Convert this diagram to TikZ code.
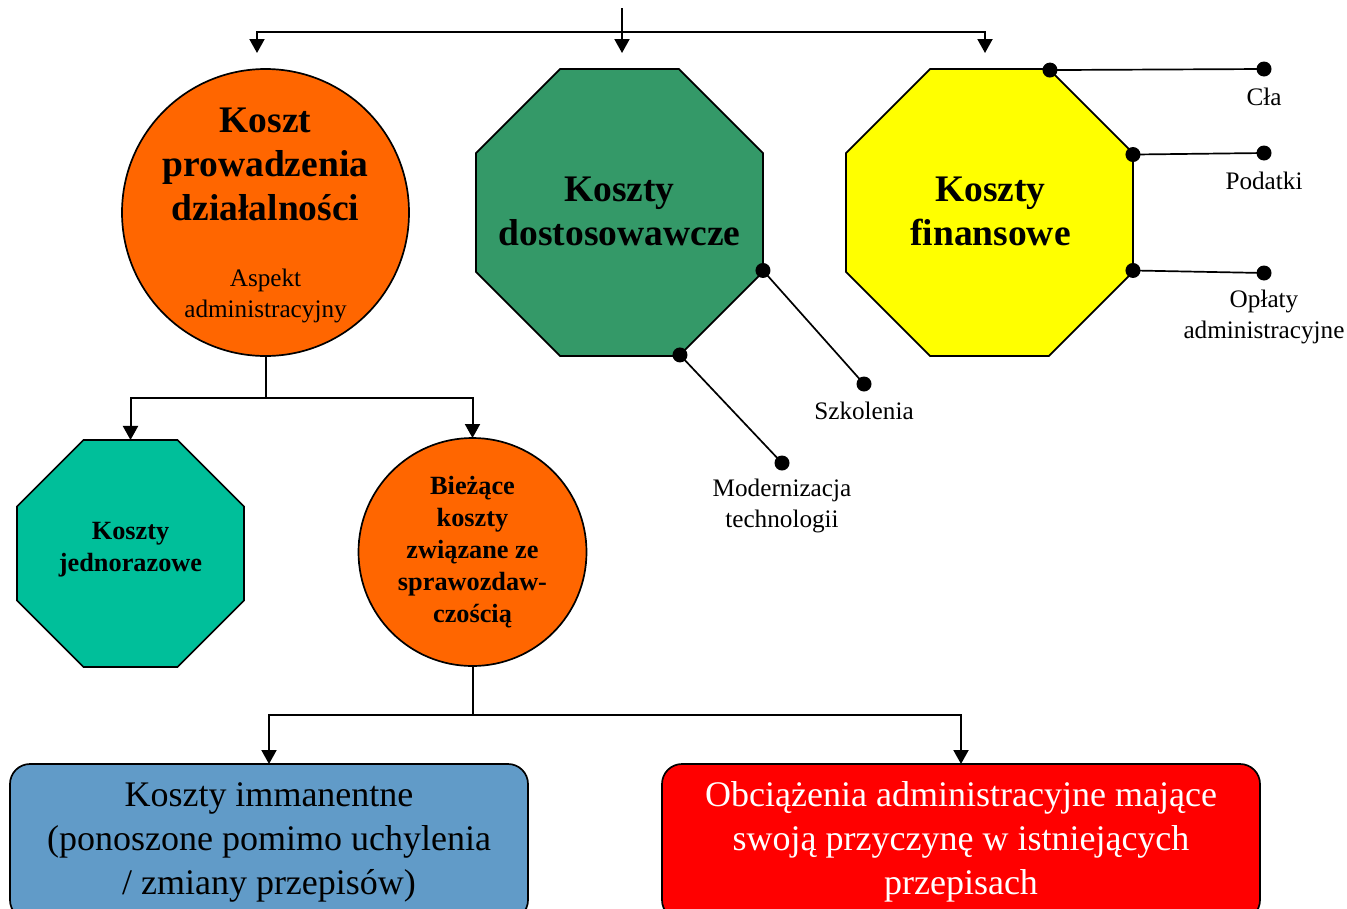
\documentclass[tikz,border=0pt]{standalone}
\usepackage{fontspec}
\setmainfont{Liberation Serif}
\usetikzlibrary{arrows.meta,shapes.geometric}
\definecolor{corange}{RGB}{255,102,0}
\definecolor{cgreen}{RGB}{52,153,104}
\definecolor{cyellow}{RGB}{255,255,0}
\definecolor{cteal}{RGB}{0,191,154}
\definecolor{cblue}{RGB}{97,155,200}
\definecolor{cred}{RGB}{255,0,0}
\newcommand{\BigB}{\fontsize{37.5}{44}\selectfont\bfseries}
\newcommand{\MidB}{\fontsize{26.3}{32}\selectfont\bfseries}
\newcommand{\SmallR}{\fontsize{25.2}{31}\selectfont}
\newcommand{\BoxR}{\fontsize{36}{44}\selectfont}
\begin{document}
\begin{tikzpicture}[x=1pt,y=-1pt,
  conn/.style={line width=2pt},
  thin conn/.style={line width=1.7pt},
  arr/.style={conn,-{Triangle[width=15pt,length=14pt]}},
  shapeb/.style={draw=black,line width=1.7pt,inner sep=0pt,outer sep=0pt},
  octa/.style={shapeb,regular polygon,regular polygon sides=8},
  rnd/.style={shapeb,circle,align=center},
  boxn/.style={shapeb,rectangle,rounded corners=20pt,minimum height=156pt,align=center,font=\BoxR},
  dotn/.style={circle,fill=black,inner sep=0pt,minimum size=15pt},
  txt/.style={align=center,inner sep=0pt},
  lbl/.style={txt,font=\SmallR}
]
\useasboundingbox (0,0) rectangle (1347,908);
\clip (0,0) rectangle (1347,908);

% main shapes
\node[rnd,fill=corange,minimum size=287pt] (kpd) at (265.5,212.5) {};
\node[txt,font=\BigB] (kpdt) at (265.5,164) {Koszt\\prowadzenia\\działalności};
\node[txt,font=\SmallR] (kpda) at (265.5,296) {Aspekt\\administracyjny};

\node[octa,fill=cgreen,minimum size=310.6pt] (kd) at (619.5,212.5) {};
\node[txt,font=\BigB] (kdt) at (619.5,211) {Koszty\\dostosowawcze};
\node[octa,fill=cyellow,minimum size=310.6pt] (kf) at (989.5,212.5) {};
\node[txt,font=\BigB] (kft) at (990.5,211) {Koszty\\finansowe};

\node[octa,fill=cteal,minimum size=245.7pt] (kj) at (130.5,553.5) {};
\node[txt,font=\MidB] (kjt) at (130.5,549.5) {Koszty\\jednorazowe};
\node[rnd,fill=corange,minimum size=228pt,font=\MidB] (bk) at (472.5,552) {Bieżące\\koszty\\związane ze\\sprawozdaw-\\czością};

\node[boxn,fill=cblue,minimum width=518pt] (ki) at (269,842) {Koszty immanentne\\(ponoszone pomimo uchylenia\\/ zmiany przepisów)};
\node[boxn,fill=cred,text=white,minimum width=598pt] (oa) at (961,842) {Obciążenia administracyjne mające\\swoją przyczynę w istniejących\\przepisach};

% top arrows
\coordinate (top) at (622,8);
\coordinate (bus) at (622,31.5);
\coordinate (t1) at (257,53);
\coordinate (t2) at (622,53);
\coordinate (t3) at (985,53);
\draw[conn] (top) -- (bus);
\draw[arr] (bus) -| (t1);
\draw[arr] (bus) -- (t2);
\draw[arr] (bus) -| (t3);

% from first circle
\coordinate (j1) at (265.5,398);
\draw[conn] (kpd.south) -- (j1);
\draw[arr] (j1) -| (kj.north);
\draw[arr] (j1) -| (bk.north);

% from second circle
\coordinate (j2) at (472.5,715);
\draw[conn] (bk.south) -- (j2);
\draw[arr] (j2) -| (ki.north);
\draw[arr] (j2) -| (oa.north);

% green octagon branches
\node[dotn] (dg1) at (kd.-22.5) {};
\node[dotn] (dg2) at (kd.-67.5) {};
\node[dotn] (dg1e) at (864,384) {};
\node[dotn] (dg2e) at (782,463) {};
\draw[thin conn] (dg1.center) -- (dg1e.center);
\draw[thin conn] (dg2.center) -- (dg2e.center);
\node[lbl] (lsz) at (864,411) {Szkolenia};
\node[lbl] (lmt) at (782,506) {Modernizacja\\technologii};

% yellow octagon branches
\node[dotn] (dy1) at (kf.67.5) {};
\node[dotn] (dy2) at (kf.22.5) {};
\node[dotn] (dy3) at (kf.-22.5) {};
\node[dotn] (dy1e) at (1264,69) {};
\node[dotn] (dy2e) at (1264,153) {};
\node[dotn] (dy3e) at (1264,273) {};
\draw[thin conn] (dy1.center) -- (dy1e.center);
\draw[thin conn] (dy2.center) -- (dy2e.center);
\draw[thin conn] (dy3.center) -- (dy3e.center);
\node[lbl] (lcl) at (1264,97) {Cła};
\node[lbl] (lpo) at (1264,181) {Podatki};
\node[lbl] (lop) at (1264,317) {Opłaty\\administracyjne};
\end{tikzpicture}
\end{document}
